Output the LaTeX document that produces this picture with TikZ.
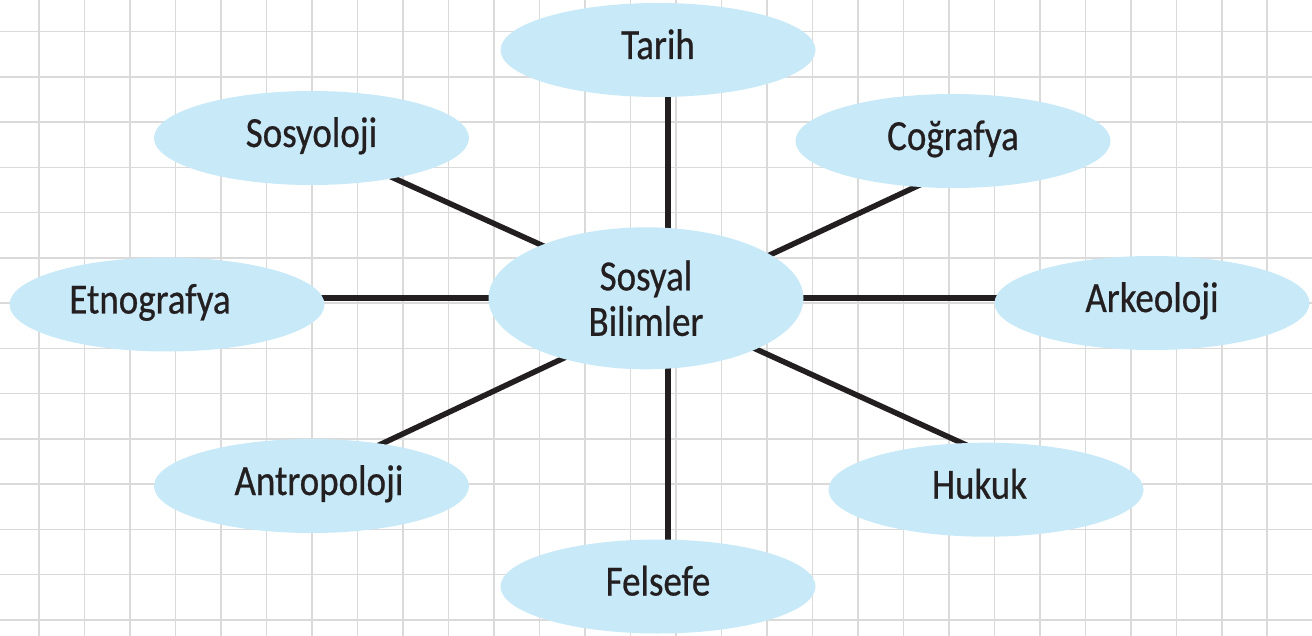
\documentclass[tikz,border=0pt]{standalone}
\usepackage{fontspec}
\setmainfont[FakeStretch=0.86,FakeBold=0.6]{Carlito}
\usetikzlibrary{shapes.geometric,calc}
\definecolor{bubble}{HTML}{C7E9F8}
\definecolor{ink}{HTML}{231F20}
\definecolor{gridc}{HTML}{DADADA}
\pgfdeclarelayer{gridlayer}
\pgfdeclarelayer{linklayer}
\pgfsetlayers{gridlayer,linklayer,main}
\begin{document}
\begin{tikzpicture}[x=1pt,y=-1pt,
  bubbase/.style={ellipse,fill=bubble,inner sep=0pt,outer sep=0pt,
    minimum width=315pt,minimum height=94pt,text=ink,
    font=\fontsize{43}{45.5}\selectfont},
  bub/.style={bubbase,text height=28pt,text depth=10pt},
  hubbub/.style={bubbase,minimum height=142pt,align=center},
  link/.style={draw=ink,line width=5.5pt,shorten >=-12pt},
  gridline/.style={draw=gridc,line width=1.5pt}]
\useasboundingbox (0,0) rectangle (1312,636);
\begin{pgfonlayer}{gridlayer}
  \fill[white] (0,0) rectangle (1312,636);
  \foreach \k in {0,...,27} \draw[gridline] ({39+45.49*\k},0) -- ({39+45.49*\k},636);
  \foreach \k in {0,...,13} \draw[gridline] (0,{31.7+45.25*\k}) -- (1312,{31.7+45.25*\k});
\end{pgfonlayer}

\node[hubbub] (sb) at (646,298.3) {Sosyal\\Bilimler};
\node[bub] (tar) at (658,50) {Tarih};
\node[bub] (sos) at (311.5,138) {Sosyoloji};
\node[bub] (cog) at (953,141) {Coğrafya};
\node[bub] (etn) at (167,304.5) {\hspace*{-34pt}Etnografya};
\node[bub] (ark) at (1152,303) {Arkeoloji};
\node[bub] (ant) at (311.5,486) {\hspace*{15pt}Antropoloji};
\node[bub] (huk) at (986,489.7) {\hspace*{-13pt}Hukuk};
\node[bub] (fel) at (658,586.5) {Felsefe};

\coordinate (hub) at (668,298);
\coordinate (hubU) at (668,302.5);
\coordinate (hubL) at (668,309);

\begin{pgfonlayer}{linklayer}
  \draw[link] (hub) -- (hub |- tar.center);
  \draw[link] (hub) -- (hub |- fel.center);
  \draw[link] (hub) -- (hub -| etn.center);
  \draw[link] (hub) -- (hub -| ark.center);
  \draw[link] (hubU) -- (sos.334.85);
  \draw[link] (hubU) -- (cog.231.5);
  \draw[link] (hubL) -- (ant.31.3);
  \draw[link] (hubL) -- (huk.117.8);
\end{pgfonlayer}
\end{tikzpicture}
\end{document}
